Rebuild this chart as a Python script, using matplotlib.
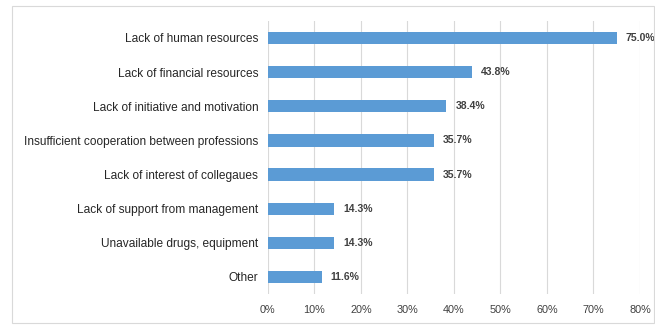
import matplotlib.pyplot as plt
from matplotlib.patches import Rectangle
from matplotlib.ticker import MultipleLocator, PercentFormatter

categories = [
    "Lack of human resources",
    "Lack of financial resources",
    "Lack of initiative and motivation",
    "Insufficient cooperation between professions",
    "Lack of interest of collegaues",
    "Lack of support from management",
    "Unavailable drugs, equipment",
    "Other",
]
values = [75.0, 43.8, 38.4, 35.7, 35.7, 14.3, 14.3, 11.6]

plt.rcParams['font.family'] = ['Liberation Sans', 'DejaVu Sans']

fig = plt.figure(figsize=(6.55, 3.26), dpi=100)
ax = fig.add_axes([0.409, 0.098, 0.568, 0.838])

y = range(len(categories))
ax.barh(y, values, height=0.36, color="#5b9bd5", zorder=3)
for yi, v in zip(y, values):
    ax.text(v + 1.9, yi, f"{v:.1f}%", va="center", ha="left",
            fontsize=7.5, fontweight="bold", color="#404040")

ax.set_yticks(list(y))
ax.set_yticklabels(categories, fontsize=8.6, color="#262626")
ax.set_ylim(7.5, -0.5)
ax.set_xlim(0, 80)
ax.xaxis.set_major_locator(MultipleLocator(10))
ax.xaxis.set_major_formatter(PercentFormatter(decimals=0))
ax.tick_params(axis="x", labelsize=7.8, colors="#404040", length=0, pad=8)
ax.tick_params(axis="y", length=0, pad=7)
ax.grid(axis="x", color="#d9d9d9", linewidth=0.8, zorder=0)
for s in ax.spines.values():
    s.set_visible(False)

# outer chart border
fig.patches.append(Rectangle((12 / 655, 3 / 326), 642 / 655, 317 / 326,
                             transform=fig.transFigure, fill=False,
                             edgecolor="#d9d9d9", linewidth=0.8))

fig.savefig("out.png", dpi=100)
